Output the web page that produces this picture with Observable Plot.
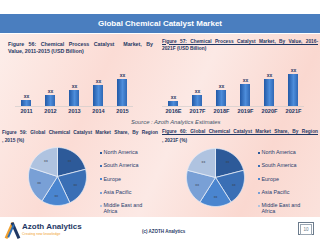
<!DOCTYPE html>
<html><head><meta charset="utf-8">
<script src="https://cdn.jsdelivr.net/npm/d3@7"></script>
<script src="https://cdn.jsdelivr.net/npm/@observablehq/plot@0.6"></script>
<style>
body{margin:0;width:320px;height:240px;overflow:hidden;position:relative;background:#fff;font-family:"Liberation Sans",Arial,sans-serif;}
.abs{position:absolute;}
#header{left:0;top:14px;width:320px;height:19px;background:#4a7ebf;color:#fff;font-weight:bold;font-size:8px;line-height:19px;text-align:center;}
#pink{left:0;top:34px;width:320px;height:183px;background:linear-gradient(115deg,#fdeeea 0%,#fbdcd5 30%,#fce9e5 55%,#fad8d0 80%,#fbe2dc 100%);}
.ft{color:#1f3864;font-weight:bold;white-space:nowrap;}
.ft .j{display:block;text-align:justify;text-align-last:justify;white-space:normal;}
.leg{font-size:5.4px;line-height:5.4px;color:#27406e;}
.leg .sq{position:absolute;left:0;top:1.7px;width:2px;height:2px;}
.leg .tx{position:absolute;left:3.5px;top:0;white-space:nowrap;}
.leg1{position:absolute;width:3px;height:17px;}
svg{overflow:visible;}
</style></head>
<body>
<div id="header" class="abs">Global Chemical Catalyst Market</div>
<div id="pink" class="abs"></div>
<div class="abs ft" style="left:8px;top:40.5px;width:145px;font-size:5.3px;line-height:7px;"><span class="j">Figure 56: Chemical Process Catalyst&nbsp; Market, By</span>Value, 2011-2015 (USD Billion)</div>
<div class="abs ft" style="left:162px;top:37.5px;width:156px;font-size:4.8px;line-height:7.6px;"><span class="j" style="text-decoration:underline;">Figure 57: Chemical Process Catalyst Market, By Value, 2016-</span>2021F (USD Billion)</div>
<div id="bar56" class="abs" style="left:0;top:64px;"></div>
<div id="bar57" class="abs" style="left:160px;top:64px;"></div>
<div class="abs" style="left:131px;top:119px;font-size:5.8px;font-style:italic;color:#44546a;white-space:nowrap;">Source : Azoth Analytics Estimates</div>
<div class="abs ft" style="left:2px;top:128.5px;width:156px;font-size:4.8px;line-height:8.4px;"><span class="j">Figure 59: Global Chemical Catalyst Market Share, By Region</span>, 2015 (%)</div>
<div class="abs ft" style="left:162px;top:127px;width:156px;font-size:4.8px;line-height:9px;"><span class="j" style="text-decoration:underline;">Figure 60: Global Chemical Catalyst Market Share, By Region</span>, 2021F (%)</div>
<div id="pie59" class="abs" style="left:25px;top:144px;"></div>
<div id="pie60" class="abs" style="left:183px;top:145px;"></div>
<div id="leg59" class="abs leg" style="left:100px;top:150px;"></div>
<div id="leg60" class="abs leg" style="left:258px;top:150px;"></div>
<div class="leg1" style="left:7.5px;top:221.5px;background:#f0a030;transform:rotate(24deg);"></div>
<div class="leg1" style="left:13.5px;top:221.5px;background:#1f3864;transform:rotate(-24deg);"></div>
<div class="leg1" style="left:10px;top:224px;height:14px;width:2px;background:#2f6fb5;transform:rotate(24deg);"></div>
<div class="abs" style="left:22px;top:221.5px;font-size:8px;font-weight:bold;color:#1f3864;white-space:nowrap;">Azoth Analytics</div>
<div class="abs" style="left:22px;top:232px;font-size:3.5px;color:#f0a030;white-space:nowrap;">Creating new knowledge</div>
<div class="abs" style="left:142px;top:229px;font-size:4.5px;font-weight:bold;color:#1f3864;white-space:nowrap;">(c) AZOTH Analytics</div>
<div class="abs" style="left:298px;top:222px;width:14px;height:11px;border:1px solid #6b7b8c;"><div style="margin:1px;height:9px;border:0.5px solid #9aa6b2;font-size:4.5px;line-height:9px;text-align:center;color:#6b7b8c;">10</div></div>
<script>
const years56 = ["2011","2012","2013","2014","2015"];
const values56 = [6,11,16,21,27];
const years57 = ["2016E","2017F","2018F","2019F","2020F","2021F"];
const values57 = [5,11,16,22,27,32];
const barLabel = "xx";
const regions = ["North America","South America","Europe","Asia Pacific","Middle East and Africa"];
const regionColors = ["#2d5a99","#3a6fb5","#4a85cf","#79a0d6","#afc3e0"];
const shares2015 = [21,22,16,21,20];
const shares2021 = [21,20,18,20,21];
const sliceLabel = "xx";

function gradDefs(id){
  return () => {
    const ns = "http://www.w3.org/2000/svg";
    const defs = document.createElementNS(ns,"defs");
    const g = document.createElementNS(ns,"linearGradient");
    g.setAttribute("id",id); g.setAttribute("x1","0"); g.setAttribute("x2","1"); g.setAttribute("y1","0"); g.setAttribute("y2","0");
    [["0%","#2259a6"],["55%","#4d8ddb"],["100%","#2f68b5"]].forEach(([o,c])=>{const s=document.createElementNS(ns,"stop");s.setAttribute("offset",o);s.setAttribute("stop-color",c);g.appendChild(s);});
    defs.appendChild(g);
    return defs;
  };
}

function barChart(years, values, gid, ml, mr){
  const data = years.map((y,i)=>({year:y, value:values[i]}));
  return Plot.plot({
    width:160, height:56, marginTop:0, marginBottom:14, marginLeft:ml, marginRight:mr,
    style:{background:"transparent", fontFamily:"Liberation Sans, Arial, sans-serif", overflow:"visible"},
    x:{domain:years, paddingInner:0.6, paddingOuter:0.2, label:null, axis:null},
    y:{domain:[0,42], axis:null},
    marks:[
      gradDefs(gid),
      Plot.ruleY([0], {stroke:"#c9c9c9", strokeWidth:0.6}),
      Plot.barY(data, {x:"year", y:"value", fill:`url(#${gid})`}),
      Plot.text(data, {x:"year", y:"value", text:()=>barLabel, dy:-4.5, fontSize:5, fontWeight:"bold", fill:"#1f3864"}),
      Plot.axisX({tickSize:0, tickPadding:3, fontSize:5.6, fontWeight:"bold", color:"#1f3864", label:null})
    ]
  });
}

function pieChart(shares){
  const arcs = d3.pie().sort(null).value(d=>d)(shares);
  const pts = [];
  arcs.forEach((a,i)=>{
    const n = 40;
    pts.push({region:regions[i], x:0, y:0});
    for(let k=0;k<=n;k++){const t=a.startAngle+(a.endAngle-a.startAngle)*k/n; pts.push({region:regions[i], x:Math.sin(t), y:Math.cos(t)});}
    pts.push({region:regions[i], x:0, y:0});
  });
  const labels = arcs.map((a,i)=>{const m=(a.startAngle+a.endAngle)/2; return {region:regions[i], x:0.68*Math.sin(m), y:0.68*Math.cos(m)};});
  const d = 32/29;
  return Plot.plot({
    width:64, height:64, margin:0,
    style:{background:"transparent", fontFamily:"Liberation Sans, Arial, sans-serif"},
    x:{domain:[-d,d], axis:null}, y:{domain:[-d,d], axis:null},
    color:{domain:regions, range:regionColors},
    marks:[
      Plot.line(pts, {x:"x", y:"y", z:"region", fill:"region", stroke:"#e4ecf7", strokeWidth:0.8, strokeLinejoin:"round"}),
      Plot.text(labels, {x:"x", y:"y", text:()=>sliceLabel, fontSize:3.6, fill:"#39424f"})
    ]
  });
}

function legend(el){
  regions.forEach((r,i)=>{
    const row = document.createElement("div");
    row.style.position="absolute"; row.style.left="0"; row.style.top=(i*13.33)+"px";
    const sq = document.createElement("div"); sq.className="sq"; sq.style.background=regionColors[i];
    const tx = document.createElement("div"); tx.className="tx";
    if(r==="Middle East and Africa"){tx.innerHTML="Middle East and<br>Africa";} else tx.textContent=r;
    row.appendChild(sq); row.appendChild(tx); el.appendChild(row);
  });
}

document.getElementById("bar56").appendChild(barChart(years56, values56, "g56", 15, 27));
document.getElementById("bar57").appendChild(barChart(years57, values57, "g57", 2, 16));
document.getElementById("pie59").appendChild(pieChart(shares2015));
document.getElementById("pie60").appendChild(pieChart(shares2021));
legend(document.getElementById("leg59"));
legend(document.getElementById("leg60"));
</script>
</body></html>
